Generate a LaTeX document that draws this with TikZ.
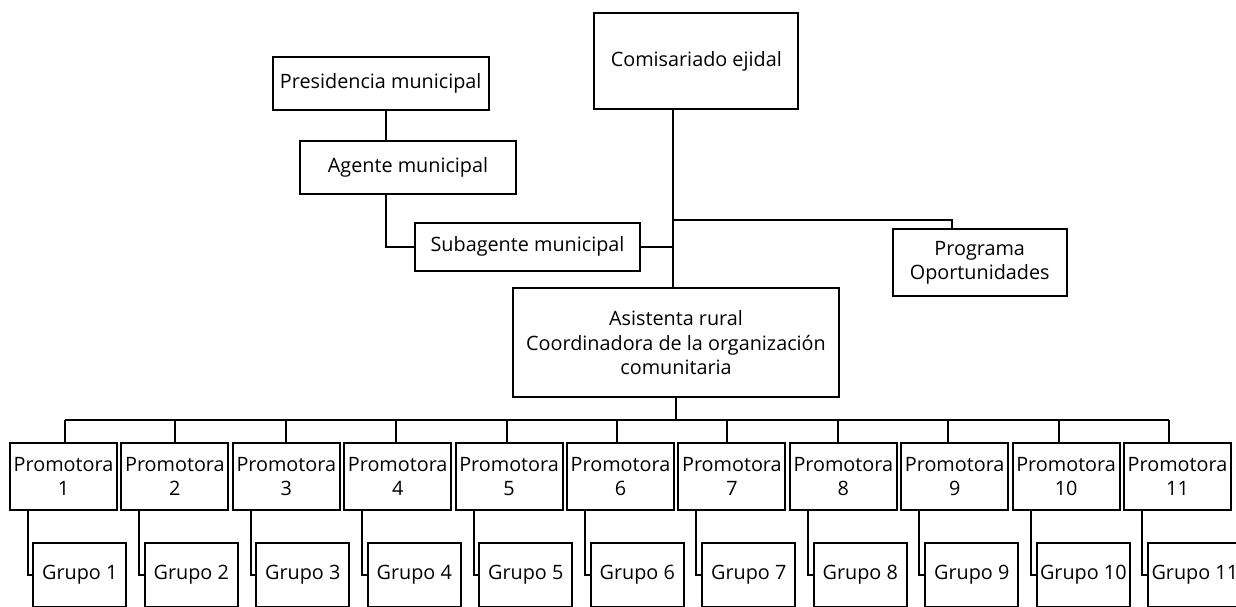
\documentclass[tikz,border=0pt]{standalone}
\usepackage{fontspec}
\setmainfont{Open Sans}
\usetikzlibrary{positioning,calc}
\tikzset{
  orgbox/.style = {draw, line width=1pt, align=center, inner sep=0pt, font=\fontsize{9.9}{12.3}\selectfont},
  orgline/.style = {line width=1pt},
}

\begin{document}
\begin{tikzpicture}[x=0.5pt, y=-0.5pt]
\useasboundingbox (0,0) rectangle (1236,606);
\clip (0,0) rectangle (1236,606);

% upper levels
\node[orgbox, minimum width=102pt, minimum height=48.3pt] (comis) at (696.3,61) {Comisariado ejidal};
\node[orgbox, minimum width=108pt, minimum height=26.4pt] (pres) at (380.7,83.7) {Presidencia municipal};
\node[orgbox, minimum width=108pt, minimum height=26.5pt] (agente) at (408,167.5) {Agente municipal};
\node[orgbox, minimum width=112.5pt, minimum height=24pt] (subag) at (527.5,246.6) {Subagente municipal};
\node[orgbox, minimum width=87pt, minimum height=33.3pt] (prog) at (979.7,262.7) {Programa\\Oportunidades};
\node[orgbox, minimum width=163.3pt, minimum height=54.5pt] (asist) at (676,342.8)
  {Asistenta rural\\Coordinadora de la organización\\comunitaria};

% trunk and side branches
\coordinate (trunk) at ([xshift=-11.5pt]comis.south);
\coordinate (fork) at ($(trunk)+(0,109.3)$);
\draw[orgline] (trunk) -- (trunk |- asist.north);
\draw[orgline] (fork) -| ([xshift=-14pt]prog.north);
\draw[orgline] (subag.east) -- (subag.east -| trunk);
\draw[orgline] ([xshift=2.65pt]pres.south) -- ([xshift=2.65pt]pres.south |- agente.north);
\draw[orgline] ([xshift=-11pt]agente.south) |- (subag.west);

% promotoras and grupos
\foreach \i in {1,...,11} {
  \pgfmathsetmacro\promx{63.5+(\i-1)*111.4}
  \pgfmathsetmacro\grupx{79.8+(\i-1)*111.5}
  \pgfmathsetmacro\busx{65+(\i-1)*110.4}
  \node[orgbox, minimum width=53.5pt, minimum height=33.6pt] (prom\i) at (\promx,476.4) {Promotora\\\i};
  \node[orgbox, minimum width=46.5pt, minimum height=32.3pt] (grupo\i) at (\grupx,575) {Grupo \i};
  \coordinate (bus\i) at (\busx,420);
  \draw[orgline] (bus\i) -- (bus\i |- prom\i.north);
  \draw[orgline] ([xshift=-17.75pt]prom\i.south) |- (grupo\i.west);
}
\draw[orgline] (bus1) -- (bus11);
\draw[orgline] (asist.south) -- (asist.south |- bus1);

\end{tikzpicture}
\end{document}
